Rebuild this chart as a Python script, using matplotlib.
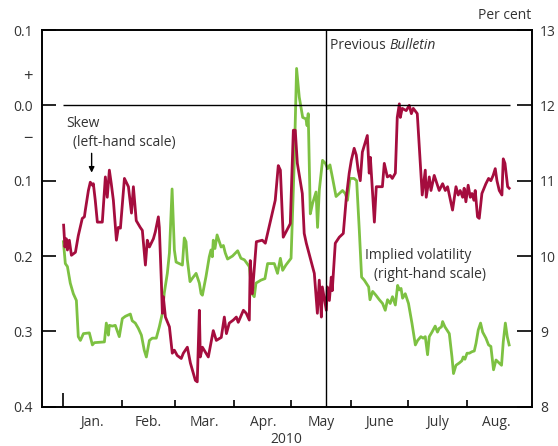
import matplotlib.pyplot as plt
import matplotlib.transforms as mtransforms

plt.rcParams['font.family'] = ['Open Sans', 'DejaVu Sans']

# Days counted from 1 January 2010
skew_day = [0.5, 1.2, 1.9, 2.5, 3.5, 4.6, 6.7, 8.2, 10.3, 11.4,
            11.9, 13.5, 14.5, 15.6, 16.1, 17.1, 18.2, 20.8, 22.4, 23.4,
            24.5, 25.5, 26.6, 28.2, 29.2, 30.3, 32.4, 34.5, 36.1, 37.1,
            38.6, 40.7, 41.8, 43.4, 44.4, 45.5, 47.6, 48.6, 50.2, 50.7,
            51.8, 52.3, 52.8, 53.9, 56.0, 57.5, 58.6, 60.1, 62.2, 63.3,
            65.4, 67.0, 69.6, 70.6, 71.7, 72.2, 73.3, 76.4, 79.0, 80.6,
            83.2, 84.8, 85.9, 87.4, 89.5, 91.1, 92.1, 94.8, 96.3, 97.9,
            98.4, 99.5, 101.6, 104.7, 106.3, 111.5, 113.1, 114.2, 115.7, 119.4,
            121.0, 122.0, 123.1, 125.7, 126.7, 127.8, 132.0, 133.6, 134.6, 135.7,
            136.2, 138.3, 138.8, 139.9, 140.9, 141.4, 143.0, 145.1, 147.2, 148.8,
            150.3, 151.4, 152.9, 154.0, 155.0, 156.1, 157.2, 159.8, 160.8, 161.4,
            163.5, 164.5, 167.7, 168.7, 170.3, 171.8, 172.9, 174.5, 175.5, 176.6,
            177.1, 178.1, 180.2, 181.8, 182.9, 183.9, 186.0, 188.6, 190.2, 190.7,
            192.3, 193.2, 194.9, 195.8, 197.5, 199.3, 200.7, 201.9, 204.5, 206.3,
            207.5, 208.5, 209.8, 210.6, 211.5, 212.7, 213.8, 214.7, 215.7, 216.4,
            217.6, 218.5, 219.9, 222.0, 223.4, 224.6, 225.8, 226.9, 227.8, 229.0,
            230.4, 231.1, 232.0, 233.4, 234.2]
skew = [-0.159, -0.188, -0.177, -0.192, -0.179, -0.199, -0.195, -0.173, -0.150, -0.148,
        -0.139, -0.113, -0.102, -0.106, -0.104, -0.126, -0.155, -0.155, -0.095, -0.122,
        -0.086, -0.104, -0.126, -0.179, -0.162, -0.163, -0.097, -0.108, -0.143, -0.108,
        -0.153, -0.162, -0.166, -0.212, -0.179, -0.188, -0.177, -0.168, -0.148, -0.162,
        -0.236, -0.276, -0.254, -0.281, -0.294, -0.329, -0.325, -0.332, -0.336, -0.329,
        -0.321, -0.342, -0.365, -0.367, -0.272, -0.334, -0.321, -0.334, -0.299, -0.312,
        -0.308, -0.281, -0.303, -0.289, -0.285, -0.281, -0.288, -0.272, -0.276, -0.285,
        -0.206, -0.250, -0.181, -0.179, -0.183, -0.126, -0.080, -0.086, -0.175, -0.157,
        -0.033, -0.033, -0.077, -0.117, -0.170, -0.183, -0.223, -0.276, -0.232, -0.281,
        -0.241, -0.272, -0.241, -0.259, -0.228, -0.246, -0.183, -0.175, -0.170, -0.122,
        -0.090, -0.073, -0.057, -0.066, -0.086, -0.100, -0.062, -0.040, -0.090, -0.069,
        -0.155, -0.108, -0.108, -0.077, -0.095, -0.093, -0.097, -0.090, -0.016, 0.002,
        -0.016, -0.004, -0.007, 0.000, -0.011, -0.004, -0.011, -0.119, -0.086, -0.122,
        -0.095, -0.113, -0.093, -0.100, -0.113, -0.104, -0.113, -0.108, -0.139, -0.108,
        -0.119, -0.113, -0.122, -0.110, -0.128, -0.106, -0.122, -0.117, -0.126, -0.113,
        -0.148, -0.150, -0.117, -0.104, -0.097, -0.100, -0.093, -0.084, -0.100, -0.113,
        -0.119, -0.071, -0.077, -0.108, -0.110]

vol_day = [0.4, 1.4, 2.5, 4.0, 5.6, 7.2, 8.2, 9.3, 10.9, 14.0,
           15.6, 16.6, 21.9, 22.9, 24.0, 24.5, 26.1, 27.6, 29.7, 31.3,
           32.9, 35.5, 36.5, 38.1, 39.7, 41.3, 42.8, 43.9, 45.5, 47.0,
           49.1, 50.7, 52.3, 53.3, 54.9, 56.0, 57.4, 58.6, 59.5, 61.2,
           62.8, 63.8, 64.7, 65.4, 66.8, 68.2, 70.0, 71.7, 72.6, 73.3,
           75.2, 76.9, 77.8, 78.5, 79.0, 79.9, 81.0, 82.2, 83.1, 84.3,
           85.3, 86.5, 89.1, 91.8, 93.5, 95.3, 96.2, 97.9, 99.3, 100.5,
           101.4, 104.0, 106.1, 107.5, 111.0, 112.7, 114.2, 115.4, 117.1, 119.8,
           120.6, 121.5, 122.7, 124.1, 125.9, 127.6, 128.2, 128.8, 129.9, 131.1,
           132.9, 133.7, 134.6, 136.3, 137.8, 139.0, 140.2, 141.6, 143.4, 145.1,
           146.8, 148.2, 149.4, 150.7, 152.9, 154.2, 155.6, 156.8, 158.2, 160.5,
           161.2, 162.6, 164.3, 166.1, 167.8, 169.2, 170.4, 171.8, 173.0, 174.5,
           175.7, 176.6, 177.5, 178.3, 179.7, 181.4, 183.2, 185.0, 186.2, 187.9,
           189.1, 190.2, 191.4, 192.3, 193.7, 195.4, 196.6, 197.5, 198.7, 199.3,
           200.5, 202.8, 204.2, 205.0, 206.3, 208.0, 209.4, 210.1, 211.0, 212.1,
           213.3, 214.7, 215.9, 216.8, 218.0, 219.2, 220.3, 222.0, 223.4, 224.6,
           226.0, 227.3, 229.0, 230.2, 231.1, 232.2, 233.2, 234.2]
vol = [10.19, 9.90, 9.86, 9.64, 9.50, 9.41, 8.93, 8.88, 8.97, 8.98,
       8.82, 8.85, 8.86, 9.11, 8.95, 9.08, 9.07, 9.08, 8.93, 9.17,
       9.20, 9.23, 9.14, 9.11, 9.04, 8.95, 8.75, 8.66, 8.88, 8.91,
       8.91, 9.06, 9.24, 9.51, 9.77, 10.04, 10.89, 10.08, 9.92, 9.90,
       9.88, 10.24, 10.19, 9.95, 9.66, 9.71, 9.77, 9.64, 9.50, 9.48,
       9.73, 9.99, 10.08, 9.99, 10.21, 10.10, 10.28, 10.19, 10.12, 10.14,
       10.04, 9.96, 10.00, 10.07, 9.97, 9.95, 9.92, 9.86, 9.50, 9.46,
       9.64, 9.68, 9.70, 9.90, 9.90, 9.77, 9.97, 9.81, 9.88, 9.97,
       10.57, 11.27, 12.49, 12.11, 11.84, 11.82, 11.73, 11.89, 10.56, 10.70,
       10.85, 10.38, 10.87, 11.27, 11.23, 11.16, 11.21, 11.03, 10.79, 10.83,
       10.87, 10.83, 10.74, 11.03, 11.03, 11.00, 10.34, 9.72, 9.68, 9.59,
       9.42, 9.53, 9.48, 9.42, 9.37, 9.28, 9.42, 9.37, 9.46, 9.35,
       9.61, 9.55, 9.57, 9.44, 9.50, 9.37, 9.11, 8.82, 8.88, 8.93,
       8.91, 8.93, 8.69, 8.93, 8.99, 9.07, 8.99, 9.04, 9.06, 9.13,
       9.06, 8.97, 8.66, 8.44, 8.55, 8.58, 8.61, 8.66, 8.63, 8.71,
       8.71, 8.73, 8.74, 8.84, 9.02, 9.11, 8.99, 8.91, 8.82, 8.80,
       8.49, 8.62, 8.58, 8.55, 8.86, 9.11, 8.93, 8.82]

month_starts = [0, 31, 59, 90, 120, 151, 181, 212]
month_labels = ['Jan.', 'Feb.', 'Mar.', 'Apr.', 'May', 'June', 'July', 'Aug.']
month_mids = [15.5, 45, 74.5, 105, 135.5, 166, 196.5, 227.5]
bulletin_day = 138  # 19 May

left_ticks = [0.1, 0.0, -0.1, -0.2, -0.3, -0.4]
left_labels = ['0.1', '0.0', '0.1', '0.2', '0.3', '0.4']
right_ticks = [8, 9, 10, 11, 12, 13]

red = '#a50d3e'
green = '#7dc142'
txt = '#333333'

fig = plt.figure(figsize=(5.58, 4.46), dpi=100)
ax = fig.add_axes([0.0747, 0.0881, 0.8781, 0.8446])
ax2 = ax.twinx()
ax.set_zorder(ax2.get_zorder() + 1)
ax.patch.set_visible(False)

ax2.plot(vol_day, vol, color=green, lw=2)
ax.plot(skew_day, skew, color=red, lw=2)

ax.set_xlim(-11, 246)
ax.set_ylim(-0.4, 0.1)
ax2.set_ylim(8, 13)

ax.hlines(0, 0, 234.5, color='black', lw=1)
ax.axvline(bulletin_day, color='black', lw=1)

# left scale
ax.set_yticks(left_ticks, labels=left_labels)
ax.set_yticks([0.04, -0.042], labels=['+', '\u2212'], minor=True)
ax.tick_params(axis='y', which='major', direction='in', length=10, width=1.2,
               pad=6.5, labelsize=10, labelcolor=txt)
ax.tick_params(axis='y', which='minor', length=0, pad=6.5, labelsize=12, labelcolor=txt)

# right scale
ax2.set_yticks(right_ticks)
ax2.tick_params(axis='y', direction='in', length=11, width=1.2, pad=6,
                labelsize=10, labelcolor=txt)

# x axis: long tick at year start, short ticks at month starts
ax.set_xticks([0], labels=[''])
ax.set_xticks(month_starts[1:], minor=True)
ax.tick_params(axis='x', which='major', direction='in', length=10, width=1.2)
ax.tick_params(axis='x', which='minor', direction='in', length=5, width=1.2)

trans = mtransforms.blended_transform_factory(ax.transData, ax.transAxes)
for m, lab in zip(month_mids, month_labels):
    ax.text(m, -0.043, lab, transform=trans, ha='center', va='center', fontsize=10, color=txt)
ax.text(0.5, -0.086, '2010', transform=ax.transAxes, ha='center', va='center',
        fontsize=10, color=txt)

for sp in ax.spines.values():
    sp.set_linewidth(1.2)
for sp in ax2.spines.values():
    sp.set_linewidth(1.2)

ax.text(1.0, 1.038, 'Per cent', transform=ax.transAxes, ha='right', va='center',
        fontsize=10, color=txt)

t1 = ax.text(bulletin_day + 2.3, 0.080, 'Previous ', va='center', fontsize=10, color=txt)
ax.annotate('Bulletin', xy=(1, 0), xycoords=t1, va='bottom', ha='left',
            fontsize=10, color=txt, style='italic')

ax.text(2.1, -0.0235, 'Skew', va='center', fontsize=10, color=txt)
ax.text(5.6, -0.0487, '(left-hand scale)', va='center', fontsize=10, color=txt)
ax.annotate('', xy=(15.2, -0.093), xytext=(15.2, -0.060),
            arrowprops=dict(arrowstyle='-|>', color='black', lw=1, mutation_scale=8))

ax.text(158.7, -0.199, 'Implied volatility', va='center', fontsize=10, color=txt)
ax.text(163.5, -0.224, '(right-hand scale)', va='center', fontsize=10, color=txt)

fig.savefig('out.png', dpi=100)
